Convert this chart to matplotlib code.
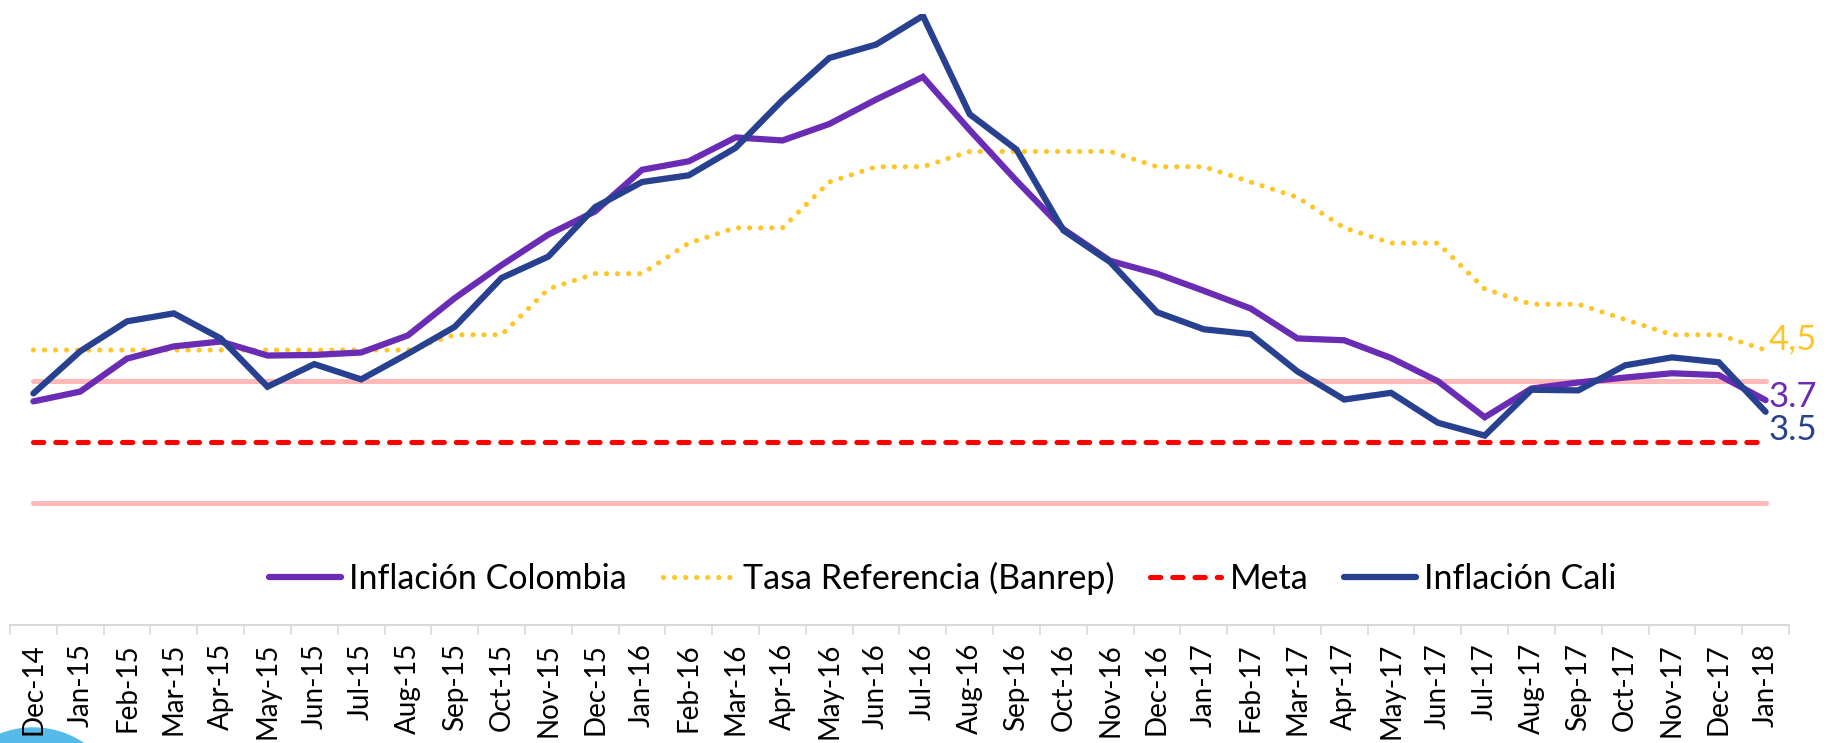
import numpy as np
import matplotlib
matplotlib.use("Agg")
import matplotlib.pyplot as plt
from matplotlib.patches import Ellipse
from matplotlib.lines import Line2D

# ---------------- data ----------------
months = ["Dec-14", "Jan-15", "Feb-15", "Mar-15", "Apr-15", "May-15", "Jun-15", "Jul-15",
          "Aug-15", "Sep-15", "Oct-15", "Nov-15", "Dec-15", "Jan-16", "Feb-16", "Mar-16",
          "Apr-16", "May-16", "Jun-16", "Jul-16", "Aug-16", "Sep-16", "Oct-16", "Nov-16",
          "Dec-16", "Jan-17", "Feb-17", "Mar-17", "Apr-17", "May-17", "Jun-17", "Jul-17",
          "Aug-17", "Sep-17", "Oct-17", "Nov-17", "Dec-17", "Jan-18"]

inflacion_colombia = [3.66, 3.82, 4.36, 4.56, 4.64, 4.41, 4.42, 4.46, 4.74, 5.35, 5.89, 6.39,
                      6.77, 7.45, 7.59, 7.98, 7.93, 8.20, 8.60, 8.97, 8.10, 7.27, 6.48, 5.96,
                      5.75, 5.47, 5.18, 4.69, 4.66, 4.37, 3.99, 3.40, 3.87, 3.97, 4.05, 4.12,
                      4.09, 3.68]

tasa_referencia = [4.50, 4.50, 4.50, 4.50, 4.50, 4.50, 4.50, 4.50, 4.50, 4.75, 4.75, 5.50,
                   5.75, 5.75, 6.25, 6.50, 6.50, 7.25, 7.50, 7.50, 7.75, 7.75, 7.75, 7.75,
                   7.50, 7.50, 7.25, 7.00, 6.50, 6.25, 6.25, 5.50, 5.25, 5.25, 5.00, 4.75,
                   4.75, 4.50]

inflacion_cali = [3.79, 4.48, 4.97, 5.10, 4.69, 3.90, 4.27, 4.02, 4.44, 4.88, 5.68, 6.03,
                  6.84, 7.25, 7.36, 7.81, 8.59, 9.28, 9.50, 9.97, 8.36, 7.78, 6.46, 5.94,
                  5.12, 4.84, 4.76, 4.15, 3.69, 3.80, 3.31, 3.10, 3.85, 3.84, 4.25, 4.38,
                  4.30, 3.49]

meta = 3.0
banda_superior = 4.0
banda_inferior = 2.0

labels = ["Inflación Colombia", "Tasa Referencia (Banrep)", "Meta", "Inflación Cali"]

# ---------------- style ----------------
C_COL = "#6A2BB5"
C_TASA = "#FFC425"
C_META = "#FF0000"
C_CALI = "#27408F"
C_BAND = "#FFB8B8"
FONT = ["Lato", "DejaVu Sans"]

DOTS = (0, (0.01, 2.14))
DASH = (0, (2.0, 2.33))

W, H = 1831, 743
fig = plt.figure(figsize=(W / 100, H / 100), dpi=100)

# decorative circle at bottom-left (behind everything)
fig.patches.append(Ellipse((33 / W, 1 - 819 / H), 2 * 91 / W, 2 * 91 / H,
                           transform=fig.transFigure, color="#56BBEA", zorder=-5))

ax = fig.add_axes([10 / W, (H - 625) / H, 1779 / W, 611 / H])
ax.patch.set_visible(False)

n = len(months)
x = np.arange(n)
ax.set_xlim(-0.5, n - 0.5)
ax.set_ylim(0, 10)

# band lines
ax.plot(x, np.full(n, banda_superior), color=C_BAND, lw=3.6, solid_capstyle="round", zorder=1)
ax.plot(x, np.full(n, banda_inferior), color=C_BAND, lw=3.6, solid_capstyle="round", zorder=1)

# series
ax.plot(x, inflacion_colombia, color=C_COL, lw=4.5, solid_capstyle="round",
        solid_joinstyle="miter", zorder=3)
ax.plot(x, tasa_referencia, color=C_TASA, lw=3.7, linestyle=DOTS, dash_capstyle="round",
        zorder=2)
ax.plot(x, np.full(n, meta), color=C_META, lw=3.7, linestyle=DASH,
        dash_capstyle="round", zorder=2)
ax.plot(x, inflacion_cali, color=C_CALI, lw=4.5, solid_capstyle="round",
        solid_joinstyle="miter", zorder=4)

# end labels
ax.annotate(f"{tasa_referencia[-1]:.1f}".replace(".", ","), xy=(x[-1], tasa_referencia[-1]),
            xytext=(2, 8), textcoords="offset points", color=C_TASA, fontsize=25,
            family=FONT, ha="left", va="center")
ax.annotate(f"{inflacion_colombia[-1]:.1f}", xy=(x[-1], inflacion_colombia[-1]),
            xytext=(2, 2), textcoords="offset points", color=C_COL, fontsize=25,
            family=FONT, ha="left", va="center")
ax.annotate(f"{inflacion_cali[-1]:.1f}", xy=(x[-1], inflacion_cali[-1]),
            xytext=(2, -13), textcoords="offset points", color=C_CALI, fontsize=25,
            family=FONT, ha="left", va="center")

# axes styling
for s in ["left", "right", "top"]:
    ax.spines[s].set_visible(False)
ax.spines["bottom"].set_color("#D9D9D9")
ax.spines["bottom"].set_linewidth(1.5)
ax.set_yticks([])
ax.set_xticks(np.arange(-0.5, n, 1.0))
ax.set_xticklabels([])
ax.set_xticks(x, minor=True)
ax.set_xticklabels(months, minor=True, rotation=90, fontsize=20, family=FONT)
ax.tick_params(axis="x", which="major", length=7.2, width=1.2, color="#D9D9D9")
ax.tick_params(axis="x", which="minor", length=0, pad=13, labelcolor="black")

# legend
handles = [
    Line2D([], [], color=C_COL, lw=4.5, solid_capstyle="round"),
    Line2D([], [], color=C_TASA, lw=3.7, linestyle=DOTS, dash_capstyle="round"),
    Line2D([], [], color=C_META, lw=3.7, linestyle=DASH, dash_capstyle="round"),
    Line2D([], [], color=C_CALI, lw=4.5, solid_capstyle="round"),
]
fig.legend(handles, labels, loc="center", bbox_to_anchor=(943 / W, 1 - 578 / H), ncol=4,
           frameon=False, prop={"family": FONT, "size": 24.5}, handlelength=2.1,
           handletextpad=0.25, columnspacing=1.05)

fig.savefig("out.png", dpi=100)
